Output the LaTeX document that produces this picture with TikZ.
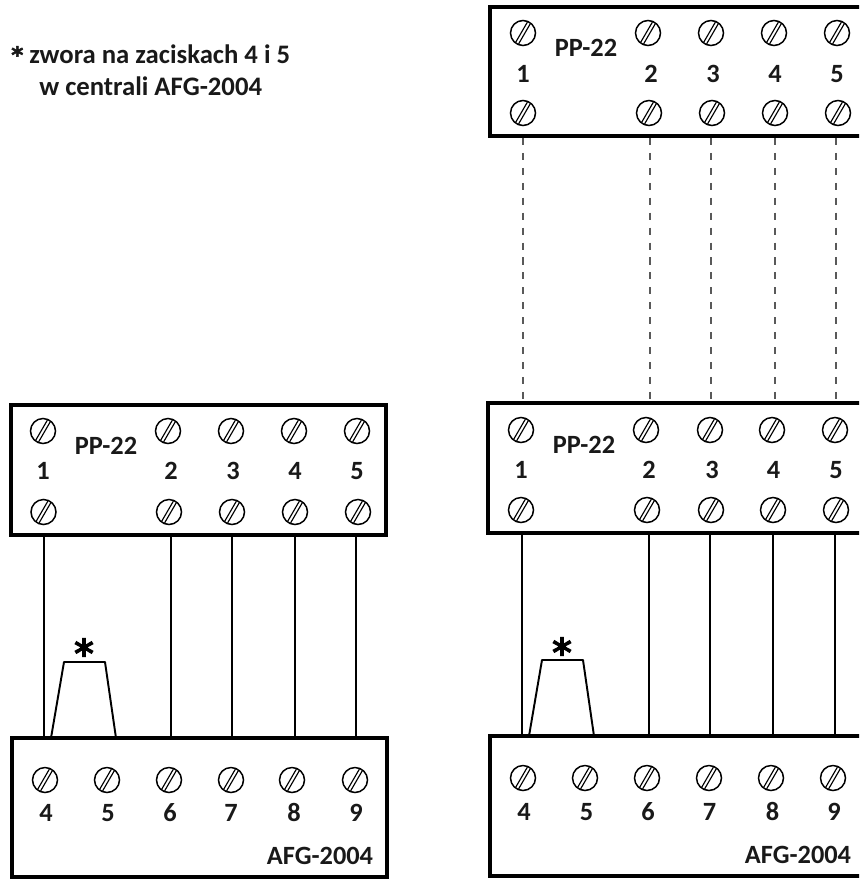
\documentclass[tikz,border=0pt]{standalone}
\usepackage{fontspec}
\setmainfont{Carlito}
\newfontfamily\starfont[FakeBold=2.5]{DejaVu Sans}
\newfontfamily\bigstarfont[FakeBold=4]{DejaVu Sans}
\tikzset{
  lbl/.style={font=\fontsize{15}{18}\selectfont\bfseries, inner sep=0pt, text=black!90, text height=9.5pt, text depth=0pt},
  note/.style={lbl, font=\fontsize{15.2}{18}\selectfont\bfseries, anchor=base west},
  star/.style={font=\fontsize{22}{22}\bigstarfont, inner sep=0pt},
  unit/.style={draw, line width=2.3pt, inner sep=0pt},
  screw/.style={circle, draw, line width=0.85pt, minimum size=0.5cm, inner sep=0pt,
    path picture={
      \draw[line width=0.65pt] ([xshift=-4.7pt,yshift=-6.2pt]path picture bounding box.center) -- ([xshift=2.5pt,yshift=6.2pt]path picture bounding box.center);
      \draw[line width=0.65pt] ([xshift=-2.5pt,yshift=-6.2pt]path picture bounding box.center) -- ([xshift=4.7pt,yshift=6.2pt]path picture bounding box.center);
    }},
  wire/.style={line width=1.1pt},
  link/.style={line width=0.85pt, dash pattern=on 4pt off 4.5pt, draw=black!65},
  jumper/.style={line width=1.1pt, line join=round}
}
\begin{document}
\begin{tikzpicture}[x=0.02cm, y=-0.02cm]
    \useasboundingbox (0,0) rectangle (859,879);
    \clip (0,0) rectangle (859,879);
    % note
    \node[note] (n1) at (11,63) {{\fontsize{13}{15}\starfont *} zwora na zaciskach 4 i 5};
    \node[note] (n2) at (39,95) {w centrali AFG-2004};
    % boxes
    \node[unit, minimum width=7.52cm, minimum height=2.6cm] (pl) at (198.5,470) {};
    \node[unit, minimum width=7.5cm, minimum height=2.78cm] (al) at (199.5,807.5) {};
    \node[unit, minimum width=8cm, minimum height=2.58cm] (pt) at (690,71.5) {};
    \node[unit, minimum width=8cm, minimum height=2.6cm] (pm) at (688,468) {};
    \node[unit, minimum width=8cm, minimum height=2.8cm] (ar) at (690,806) {};
    % left PP-22
    \node[lbl] (plt) at (106,446) {PP-22};
    \node[screw] (pla1) at (43,431) {};
    \node[screw] (pla2) at (168,431) {};
    \node[screw] (pla3) at (231,431) {};
    \node[screw] (pla4) at (294,431) {};
    \node[screw] (pla5) at (357,431) {};
    \node[lbl] (pln1) at (43,471) {1};
    \node[lbl] (pln2) at (171,471) {2};
    \node[lbl] (pln3) at (233,471) {3};
    \node[lbl] (pln4) at (295,471) {4};
    \node[lbl] (pln5) at (357,471) {5};
    \node[screw] (plb1) at (43.5,512) {};
    \node[screw] (plb2) at (169,512) {};
    \node[screw] (plb3) at (232,512) {};
    \node[screw] (plb4) at (295,512) {};
    \node[screw] (plb5) at (358,512) {};
    % left AFG-2004
    \node[screw] (als4) at (45,780) {};
    \node[screw] (als5) at (107,780) {};
    \node[screw] (als6) at (169,780) {};
    \node[screw] (als7) at (231,780) {};
    \node[screw] (als8) at (292,780) {};
    \node[screw] (als9) at (355,780) {};
    \node[lbl] (aln4) at (46,813) {4};
    \node[lbl] (aln5) at (108,813) {5};
    \node[lbl] (aln6) at (170,813) {6};
    \node[lbl] (aln7) at (231,813) {7};
    \node[lbl] (aln8) at (294,813) {8};
    \node[lbl] (aln9) at (356,813) {9};
    \node[lbl] (alt) at (320,856) {AFG-2004};
    % top right PP-22
    \node[lbl] (ptt) at (586,48) {PP-22};
    \node[screw] (pta1) at (523,33) {};
    \node[screw] (pta2) at (648,33) {};
    \node[screw] (pta3) at (711,33) {};
    \node[screw] (pta4) at (774,33) {};
    \node[screw] (pta5) at (837,33) {};
    \node[lbl] (ptn1) at (523,74) {1};
    \node[lbl] (ptn2) at (651,74) {2};
    \node[lbl] (ptn3) at (713,74) {3};
    \node[lbl] (ptn4) at (775,74) {4};
    \node[lbl] (ptn5) at (837,74) {5};
    \node[screw] (ptb1) at (523,113) {};
    \node[screw] (ptb2) at (649,113) {};
    \node[screw] (ptb3) at (712,113) {};
    \node[screw] (ptb4) at (775,113) {};
    \node[screw] (ptb5) at (838,113) {};
    % middle right PP-22
    \node[lbl] (pmt) at (584,445) {PP-22};
    \node[screw] (pma1) at (521,430) {};
    \node[screw] (pma2) at (646,430) {};
    \node[screw] (pma3) at (710,430) {};
    \node[screw] (pma4) at (772,430) {};
    \node[screw] (pma5) at (835,430) {};
    \node[lbl] (pmn1) at (521,470) {1};
    \node[lbl] (pmn2) at (649,470) {2};
    \node[lbl] (pmn3) at (712,470) {3};
    \node[lbl] (pmn4) at (773.5,470) {4};
    \node[lbl] (pmn5) at (836,470) {5};
    \node[screw] (pmb1) at (521,510) {};
    \node[screw] (pmb2) at (647,510) {};
    \node[screw] (pmb3) at (711,510) {};
    \node[screw] (pmb4) at (773,510) {};
    \node[screw] (pmb5) at (836,510) {};
    % right AFG-2004
    \node[screw] (ars4) at (523,778) {};
    \node[screw] (ars5) at (585,778) {};
    \node[screw] (ars6) at (647,778) {};
    \node[screw] (ars7) at (709,778) {};
    \node[screw] (ars8) at (771,778) {};
    \node[screw] (ars9) at (833,778) {};
    \node[lbl] (arn4) at (524,812) {4};
    \node[lbl] (arn5) at (586.5,812) {5};
    \node[lbl] (arn6) at (648,812) {6};
    \node[lbl] (arn7) at (709.5,812) {7};
    \node[lbl] (arn8) at (772.5,812) {8};
    \node[lbl] (arn9) at (834,812) {9};
    \node[lbl] (art) at (798,855) {AFG-2004};
    % wire ends
    \coordinate (plw1) at (44,536);
    \coordinate (plw2) at (171,536);
    \coordinate (plw3) at (232,536);
    \coordinate (plw4) at (295,536);
    \coordinate (plw5) at (356,536);
    \coordinate (alw1) at (44,738);
    \coordinate (alw2) at (171,738);
    \coordinate (alw3) at (232,738);
    \coordinate (alw4) at (295,738);
    \coordinate (alw5) at (356,738);
    \coordinate (pmw1) at (522,534);
    \coordinate (pmw2) at (649,534);
    \coordinate (pmw3) at (710,534);
    \coordinate (pmw4) at (773,534);
    \coordinate (pmw5) at (835,534);
    \coordinate (arw1) at (522,736);
    \coordinate (arw2) at (649,736);
    \coordinate (arw3) at (710,736);
    \coordinate (arw4) at (773,736);
    \coordinate (arw5) at (835,736);
    \coordinate (ptd1) at (523,138);
    \coordinate (ptd2) at (650,138);
    \coordinate (ptd3) at (711,138);
    \coordinate (ptd4) at (775,138);
    \coordinate (ptd5) at (836,138);
    \coordinate (pmd1) at (523,402);
    \coordinate (pmd2) at (650,402);
    \coordinate (pmd3) at (711,402);
    \coordinate (pmd4) at (775,402);
    \coordinate (pmd5) at (836,402);
    % wires
    \draw[wire] (plw1) -- (alw1);
    \draw[wire] (plw2) -- (alw2);
    \draw[wire] (plw3) -- (alw3);
    \draw[wire] (plw4) -- (alw4);
    \draw[wire] (plw5) -- (alw5);
    \draw[wire] (pmw1) -- (arw1);
    \draw[wire] (pmw2) -- (arw2);
    \draw[wire] (pmw3) -- (arw3);
    \draw[wire] (pmw4) -- (arw4);
    \draw[wire] (pmw5) -- (arw5);
    \draw[link] (ptd1) -- (pmd1);
    \draw[link] (ptd2) -- (pmd2);
    \draw[link] (ptd3) -- (pmd3);
    \draw[link] (ptd4) -- (pmd4);
    \draw[link] (ptd5) -- (pmd5);
    % jumpers
    \coordinate (jl1) at (51,738);
    \coordinate (jl2) at (64,662);
    \coordinate (jl3) at (105,662);
    \coordinate (jl4) at (116,738);
    \draw[jumper] (jl1) -- (jl2) -- (jl3) -- (jl4);
    \node[star] (sl) at (84,653) {*};
    \coordinate (jr1) at (529,736);
    \coordinate (jr2) at (542,660);
    \coordinate (jr3) at (583,660);
    \coordinate (jr4) at (594,736);
    \draw[jumper] (jr1) -- (jr2) -- (jr3) -- (jr4);
    \node[star] (sr) at (562,652) {*};
\end{tikzpicture}
\end{document}
